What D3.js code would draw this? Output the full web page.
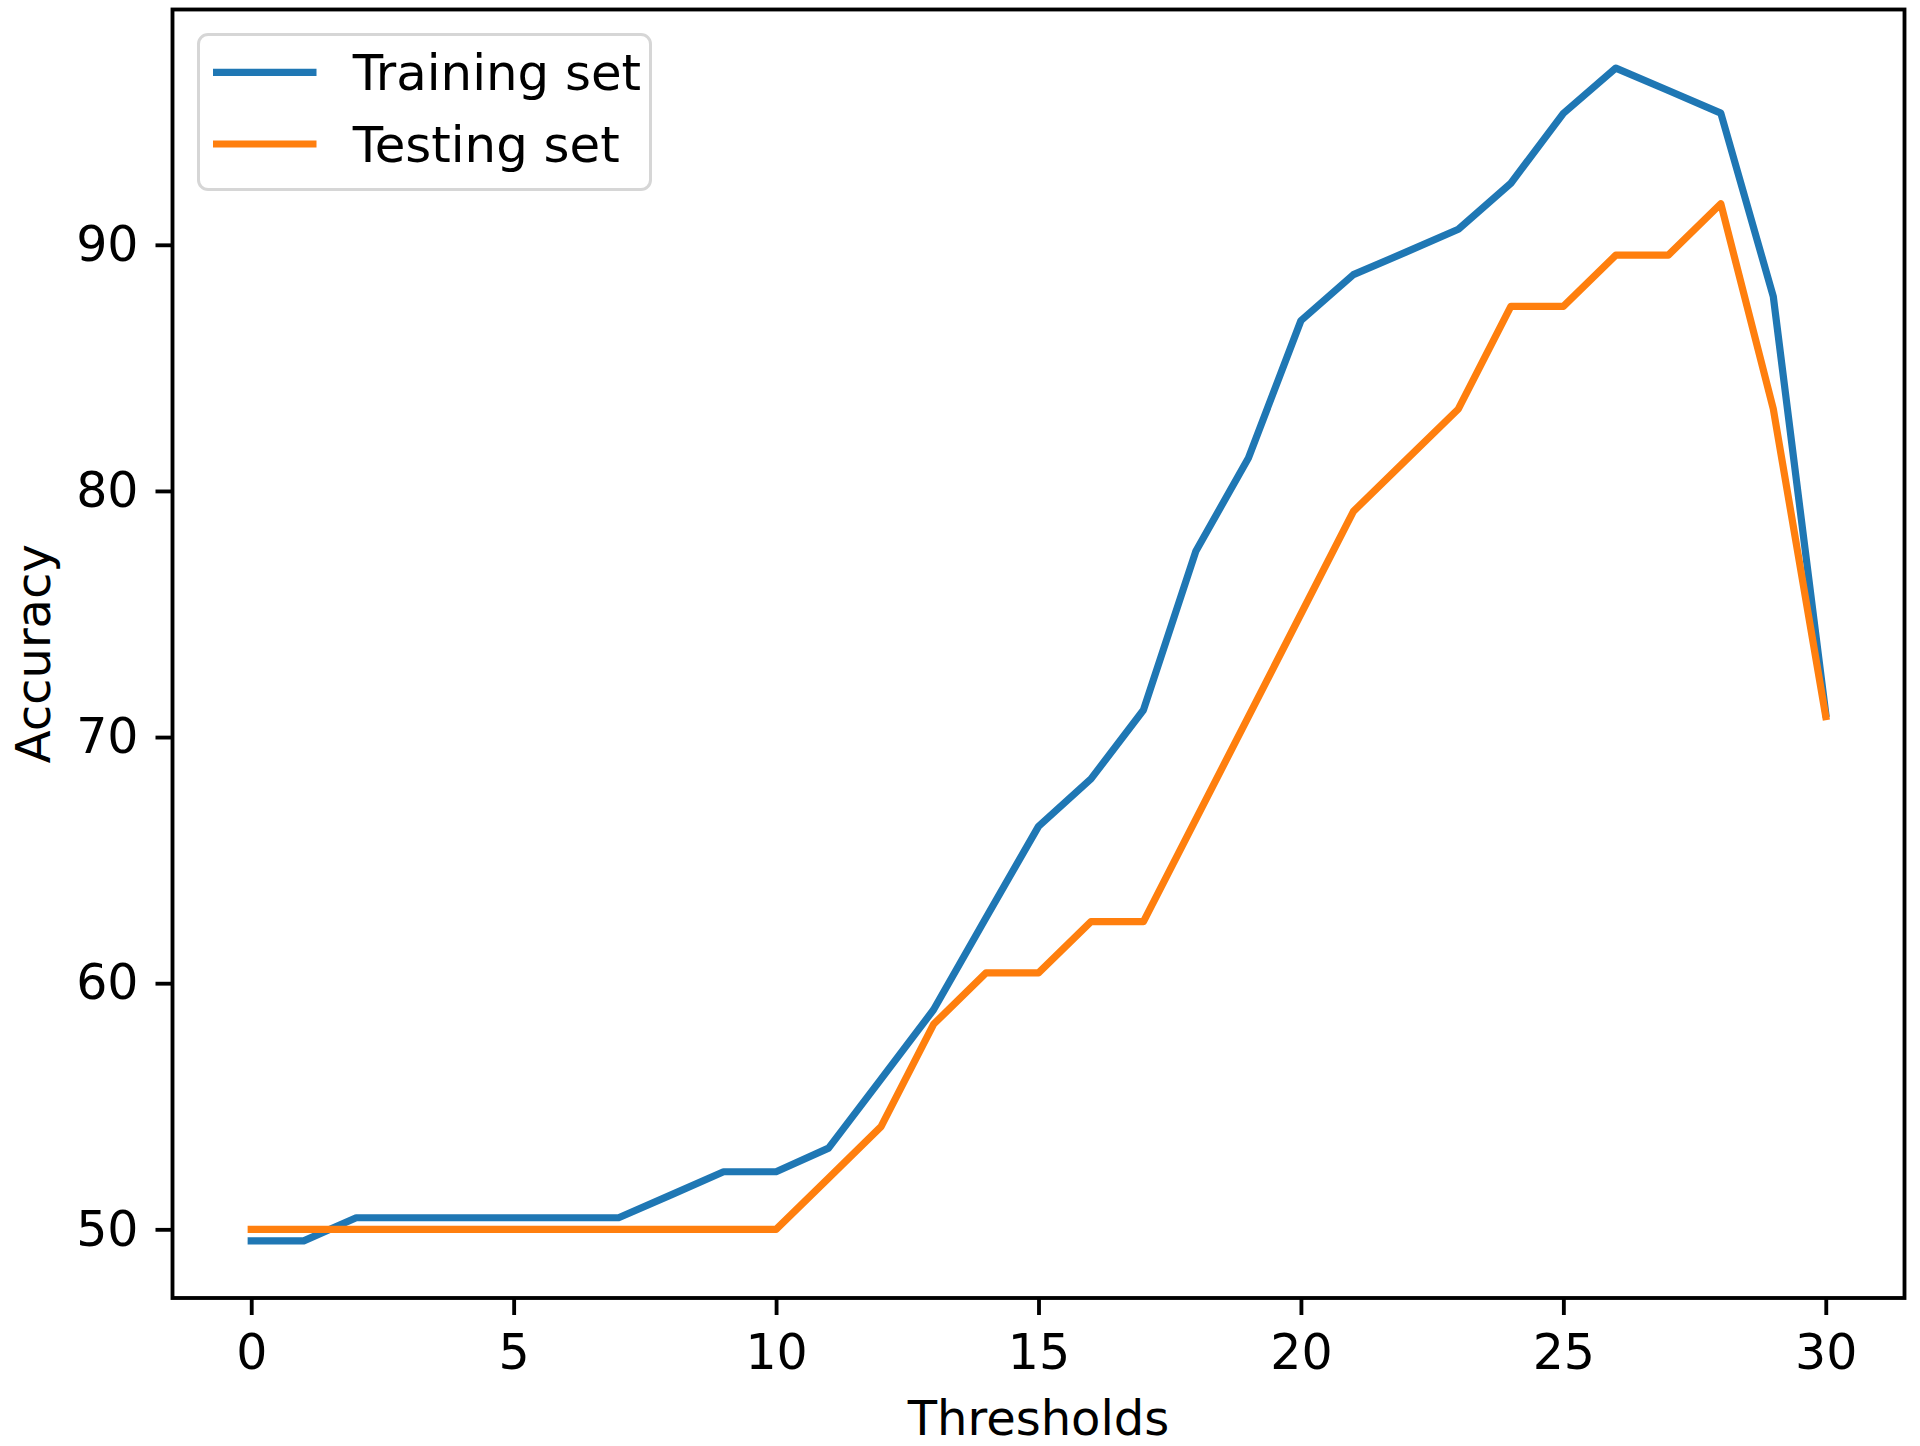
<!DOCTYPE html>
<html>
<head>
<meta charset="utf-8">
<script src="https://cdn.jsdelivr.net/npm/d3@7"></script>
<style>
  html, body { margin: 0; padding: 0; background: #fff; }
  svg { display: block; }
  text { font-family: "DejaVu Sans", sans-serif; fill: #000; }
</style>
</head>
<body>
<script>
// ---- data ----
const thresholds = [0,1,2,3,4,5,6,7,8,9,10,11,12,13,14,15,16,17,18,19,20,21,22,23,24,25,26,27,28,29,30];
const trainingSet = [49.53,49.53,50.47,50.47,50.47,50.47,50.47,50.47,51.4,52.34,52.34,53.3,56.1,58.92,62.66,66.37,68.3,71.1,77.56,81.34,86.92,88.79,89.7,90.63,92.5,95.34,97.18,96.27,95.35,87.9,70.95];
const testingSet = [50,50,50,50,50,50,50,50,50,50,50,52.08,54.17,58.33,60.42,60.42,62.5,62.5,66.67,70.83,75,79.17,81.25,83.33,87.5,87.5,89.58,89.58,91.67,83.33,70.83];
const xTicks = [0,5,10,15,20,25,30];
const yTicks = [50,60,70,80,90];
const seriesNames = ["Training set", "Testing set"];
const seriesColors = ["#1f77b4", "#ff7f0e"];
const xLabel = "Thresholds";
const yLabel = "Accuracy";

// ---- layout ----
const W = 1920, H = 1446;
const L = 172.5, R = 1904.5, T = 9.5, B = 1298;
const fs = 48, tickFs = 49, legFs = 49.8;

const svg = d3.select("body").append("svg").attr("width", W).attr("height", H);
svg.append("rect").attr("width", W).attr("height", H).attr("fill", "#fff");

const x = d3.scaleLinear().domain([-1.5, 31.5]).range([L, R]);
const y = d3.scaleLinear().domain([47.21, 99.56]).range([B, T]);

// lines
const line = d3.line().x((d, i) => x(thresholds[i])).y(d => y(d));
[trainingSet, testingSet].forEach((s, k) => {
  svg.append("path").datum(s)
    .attr("d", line)
    .attr("fill", "none")
    .attr("stroke", seriesColors[k])
    .attr("stroke-width", 7.2)
    .attr("stroke-linejoin", "round")
    .attr("stroke-linecap", "square");
});

// axes
const xAxis = d3.axisBottom(x).tickValues(xTicks).tickSize(17).tickPadding(17).tickFormat(d3.format("d"));
const yAxis = d3.axisLeft(y).tickValues(yTicks).tickSize(17).tickPadding(17).tickFormat(d3.format("d"));

const gx = svg.append("g").attr("transform", `translate(0,${B})`).call(xAxis);
const gy = svg.append("g").attr("transform", `translate(${L},0)`).call(yAxis);
[gx, gy].forEach(g => {
  g.select(".domain").remove();
  g.selectAll(".tick line").attr("stroke", "#000").attr("stroke-width", 3.84);
  g.selectAll(".tick text").attr("font-size", tickFs).attr("font-family", "DejaVu Sans").attr("fill", "#000");
});
gx.selectAll(".tick text").attr("dy", "0.76em");

// frame (spines)
svg.append("rect")
  .attr("x", L).attr("y", T).attr("width", R - L).attr("height", B - T)
  .attr("fill", "none").attr("stroke", "#000").attr("stroke-width", 3.84);

// axis labels
svg.append("text").attr("x", (L + R) / 2).attr("y", 1435)
  .attr("text-anchor", "middle").attr("font-size", fs).text(xLabel);
svg.append("text")
  .attr("transform", `translate(50,${(T + B) / 2}) rotate(-90)`)
  .attr("text-anchor", "middle").attr("font-size", fs).text(yLabel);

// legend
const lg = svg.append("g");
lg.append("rect").attr("x", 198.5).attr("y", 34.5).attr("width", 452).attr("height", 155)
  .attr("rx", 9.6).attr("ry", 9.6)
  .attr("fill", "#fff").attr("fill-opacity", 0.8)
  .attr("stroke", "#d6d6d6").attr("stroke-width", 3);
const legY = [72.3, 144];
seriesNames.forEach((n, k) => {
  lg.append("line").attr("x1", 213).attr("x2", 316.5)
    .attr("y1", legY[k]).attr("y2", legY[k])
    .attr("stroke", seriesColors[k]).attr("stroke-width", 7.2);
  lg.append("text").attr("x", 352.7).attr("y", legY[k] + 17.5)
    .attr("font-size", legFs).text(n);
});
</script>
</body>
</html>
